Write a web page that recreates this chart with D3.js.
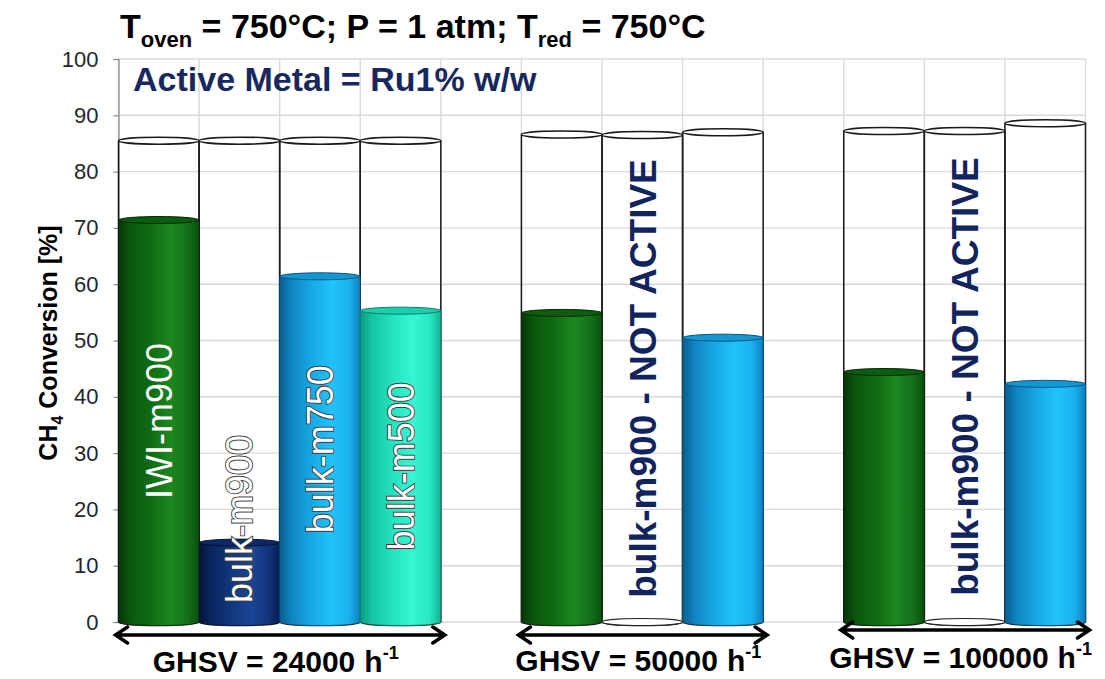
<!DOCTYPE html>
<html><head><meta charset="utf-8">
<script src="https://cdn.jsdelivr.net/npm/d3@7"></script>
<style>
html,body{margin:0;padding:0;background:#fff;}
svg{display:block;font-family:Arial,"Liberation Sans",sans-serif;}
</style></head><body>
<svg id="chart" width="1105" height="679"></svg>
<script>
// Slots along the x axis: three GHSV groups separated by empty slots
const slotSamples = ["IWI-m900","bulk-m900","bulk-m750","bulk-m500",null,"IWI-m900","bulk-m900","bulk-m750",null,"IWI-m900","bulk-m900","bulk-m750"];
// CH4 conversion [%]
const conversion = [71.4,14.1,61.4,55.3,null,54.9,0,50.5,null,44.4,0,42.3];
// height of the open outline cylinder behind each bar [%]
const outlineLevel = [85.5,85.5,85.5,85.5,null,86.6,86.5,87.0,null,87.2,87.2,88.6];
const barLabels = ["IWI-m900","bulk-m900","bulk-m750","bulk-m500","","","bulk-m900 - NOT ACTIVE","","","","bulk-m900 - NOT ACTIVE",""];
const ghsvValues = ["24000","50000","100000"];
const groupFirstSlot = [0,5,9];
const groupLastSlot = [3,7,11];
const yTickValues = [0,10,20,30,40,50,60,70,80,90,100];

// cylinder shading per sample
const palette = {
  "IWI-m900": {stops:["#063506","#0a560c","#106c13","#1c8720","#13701a","#0a4f0c"], top:"#0d5d10", edge:"#042a05"},
  "bulk-m900": {stops:["#04143a","#0a245c","#12377f","#1a4596","#12347a","#081d52"], top:"#0c2a66", edge:"#03102e"},
  "bulk-m750": {stops:["#0a5c8e","#0f84c0","#18a9e6","#20c3fb","#19b2ee","#0d7fbd"], top:"#1597d2", edge:"#08567f"},
  "bulk-m500": {stops:["#0c9a80","#14c4a3","#25e3c0","#36f6d4","#27e7c4","#12b394"], top:"#1bcfae", edge:"#0a7d68"}
};
const stopOffsets = [0,0.14,0.4,0.65,0.86,1];

const svg = d3.select("#chart");
const x = d3.scaleBand().domain(d3.range(slotSamples.length)).range([118.5,1085.5]).padding(0);
const y = d3.scaleLinear().domain([0,100]).range([622,59]);
const bw = x.bandwidth();
const ry = 3.5;
const base = y(0);
const plotRight = x.range()[1];

// gradients
const defs = svg.append("defs");
Object.entries(palette).forEach(([name,p],k)=>{
  const g = defs.append("linearGradient").attr("id","grad"+k)
    .attr("x1",0).attr("x2",1).attr("y1",0).attr("y2",0);
  p.stops.forEach((c,j)=>g.append("stop").attr("offset",stopOffsets[j]).attr("stop-color",c));
  p.id = "grad"+k;
});

// gridlines
const grid = svg.append("g");
grid.selectAll("line.h").data(yTickValues).join("line")
  .attr("x1",x.range()[0]).attr("x2",plotRight)
  .attr("y1",d=>y(d)).attr("y2",d=>y(d))
  .attr("stroke","#d9d9d9").attr("stroke-width",1.4);
grid.selectAll("line.v").data(d3.range(slotSamples.length+1)).join("line")
  .attr("x1",i=>x.range()[0]+i*bw).attr("x2",i=>x.range()[0]+i*bw)
  .attr("y1",y(100)).attr("y2",base)
  .attr("stroke","#d9d9d9").attr("stroke-width",1.4);

// y axis
const yAxis = svg.append("g").attr("transform",`translate(${x.range()[0]},0)`)
  .call(d3.axisLeft(y).tickValues(yTickValues).tickSize(5).tickPadding(15));
yAxis.select(".domain").attr("stroke","#868686").attr("stroke-width",1.2);
yAxis.selectAll(".tick line").attr("stroke","#868686").attr("stroke-width",1.2);
yAxis.selectAll(".tick text").attr("font-size",22).attr("fill","#262626")
  .attr("font-family","Arial, 'Liberation Sans', sans-serif");

const slots = slotSamples.map((s,i)=>({i,sample:s,v:conversion[i],lvl:outlineLevel[i],label:barLabels[i]}))
  .filter(d=>d.sample!==null);

function bodyPath(xl,ty){
  const xr = xl+bw;
  return `M${xl},${ty} L${xl},${base} A${bw/2},${ry} 0 0 0 ${xr},${base} L${xr},${ty} Z`;
}

// open outline cylinders
const outline = svg.append("g").attr("fill","none").attr("stroke","#1a1a1a").attr("stroke-width",1.5);
slots.forEach(d=>{
  const xl = x(d.i), ty = y(d.lvl);
  outline.append("path").attr("d",`M${xl},${ty} L${xl},${base} A${bw/2},${ry} 0 0 0 ${xl+bw},${base} L${xl+bw},${ty}`);
  outline.append("ellipse").attr("cx",xl+bw/2).attr("cy",ty).attr("rx",bw/2).attr("ry",ry);
});

// filled cylinders
const bars = svg.append("g");
slots.forEach(d=>{
  const p = palette[d.sample];
  const xl = x(d.i);
  if (d.v > 0) {
    const ty = y(d.v);
    bars.append("path").attr("d",bodyPath(xl,ty)).attr("fill",`url(#${p.id})`)
      .attr("stroke",p.edge).attr("stroke-width",0.6);
    bars.append("ellipse").attr("cx",xl+bw/2).attr("cy",ty).attr("rx",bw/2-0.3).attr("ry",ry)
      .attr("fill",p.top).attr("stroke",p.edge).attr("stroke-width",1);
  } else {
    bars.append("ellipse").attr("cx",xl+bw/2).attr("cy",base).attr("rx",bw/2).attr("ry",ry)
      .attr("fill","#fff").attr("stroke","#222").attr("stroke-width",1.2);
  }
});

// labels written up along the cylinders
const labels = svg.append("g");
slots.filter(d=>d.label).forEach(d=>{
  const cx = x(d.i)+bw/2;
  const top = d.v>0 ? y(d.v) : y(d.lvl);
  const t = labels.append("text").attr("text-anchor","middle").attr("dy","0.36em").text(d.label);
  if (d.v > 0) {
    t.attr("font-size",36).attr("fill","#fff");
    if (d.sample !== "IWI-m900") {
      t.attr("stroke","#3a3a3a").attr("stroke-width",1.8).attr("paint-order","stroke");
    }
  } else {
    t.attr("font-size",37).attr("font-weight","bold").attr("fill","#12245e");
  }
  const len = t.node().getComputedTextLength();
  let cy = (top+base)/2;
  if (cy + len/2 > base-19) cy = base-19-len/2;
  t.attr("transform",`translate(${cx},${cy}) rotate(-90)`);
});

// GHSV arrows and labels
const arrowY = [635,635,630];
const labelY = [672,671,668];
const groups = svg.append("g");
ghsvValues.forEach((g,k)=>{
  const x1 = x(groupFirstSlot[k])-3;
  const x2 = x(groupLastSlot[k])+bw+4;
  const ay = arrowY[k];
  groups.append("path")
    .attr("d",`M${x1+12},${ay-8} L${x1},${ay} L${x1+12},${ay+8} M${x1},${ay} L${x2},${ay} M${x2-12},${ay-8} L${x2},${ay} L${x2-12},${ay+8}`)
    .attr("fill","none").attr("stroke","#000").attr("stroke-width",3.5)
    .attr("stroke-linecap","round").attr("stroke-linejoin","miter");
  const cx = (x(groupFirstSlot[k])+x(groupLastSlot[k])+bw)/2 - 4;
  const t = groups.append("text").attr("x",cx).attr("y",labelY[k]).attr("text-anchor","middle")
    .attr("font-size",30).attr("font-weight","bold").attr("fill","#000");
  t.append("tspan").text(`GHSV = ${g}`);
  t.append("tspan").attr("dx",9).text("h");
  t.append("tspan").attr("font-size",18).attr("dy",-13).text("-1");
});

// titles
const title = svg.append("text").attr("x",120).attr("y",38).attr("font-size",34).attr("font-weight","bold").attr("fill","#000");
title.append("tspan").text("T");
title.append("tspan").attr("font-size",22).attr("dy",9).text("oven");
title.append("tspan").attr("dy",-9).text(" = 750°C; P = 1 atm; T");
title.append("tspan").attr("font-size",22).attr("dy",9).text("red");
title.append("tspan").attr("dy",-9).text(" = 750°C");

svg.append("text").attr("x",133).attr("y",91).attr("font-size",34).attr("font-weight","bold")
  .attr("fill","#17285f").text("Active Metal = Ru1% w/w");

const yl = svg.append("text").attr("transform","translate(57,343) rotate(-90)")
  .attr("text-anchor","middle").attr("font-size",25).attr("font-weight","bold").attr("fill","#000");
yl.append("tspan").text("CH");
yl.append("tspan").attr("font-size",16).attr("dy",6).text("4");
yl.append("tspan").attr("dy",-6).text(" Conversion [%]");
</script>
</body></html>
